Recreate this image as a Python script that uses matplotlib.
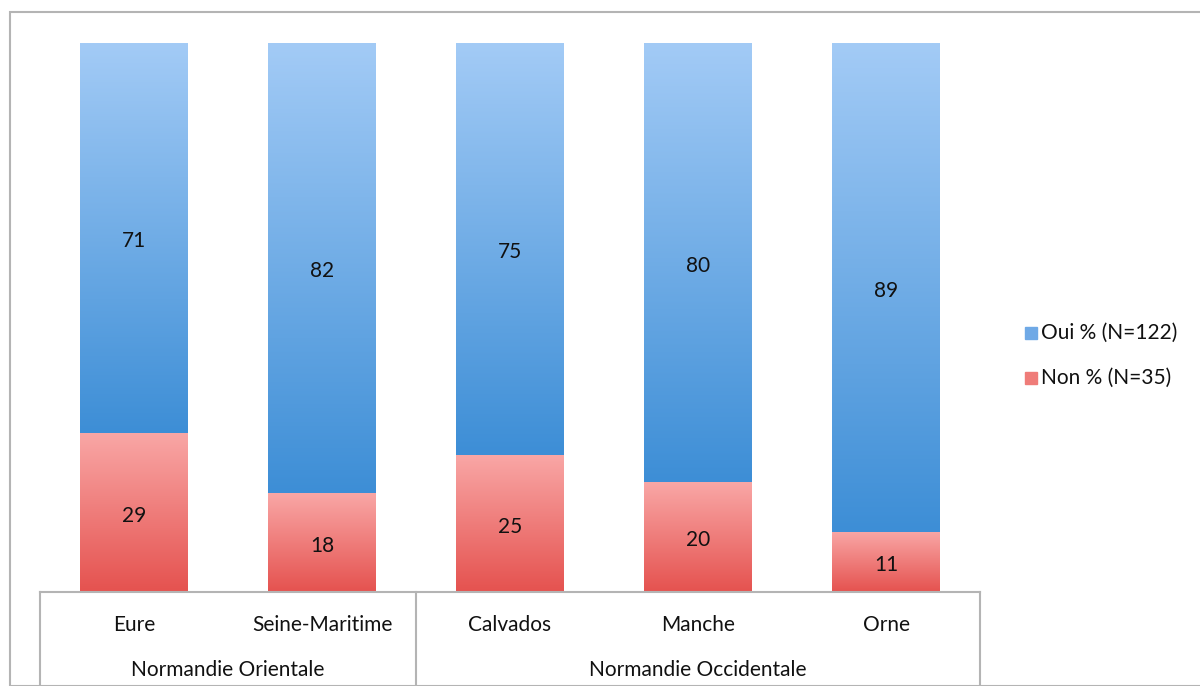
import numpy as np
import matplotlib.pyplot as plt
from matplotlib.colors import LinearSegmentedColormap
from matplotlib.patches import Rectangle

plt.rcParams['font.family'] = ['Lato', 'DejaVu Sans']

departements = ["Eure", "Seine-Maritime", "Calvados", "Manche", "Orne"]
regions = ["Normandie Orientale", "Normandie Occidentale"]
region_sizes = [2, 3]
oui = [71, 82, 75, 80, 89]
non = [29, 18, 25, 20, 11]
labels = ["Oui % (N=122)", "Non % (N=35)"]

W, H = 1200, 686
fs = 15
fig = plt.figure(figsize=(W / 100, H / 100), dpi=100)

# cadre exterieur
fig.patches.append(Rectangle((10 / W, 0), 1.2, 1 - 12 / H, transform=fig.transFigure,
                             fill=False, edgecolor="#b4b4b4", linewidth=1.5, zorder=0))

ax = fig.add_axes([40 / W, 1 - 592 / H, 940 / W, 549 / H])
ax.axis("off")

blue_cm = LinearSegmentedColormap.from_list("b", ["#3d8ed6", "#a3cbf6"])
red_cm = LinearSegmentedColormap.from_list("r", ["#e5524f", "#f9a7a6"])
grad = np.linspace(0, 1, 256).reshape(-1, 1)

x = np.arange(len(departements))
w = 108 / 188
bars_non = ax.bar(x, non, width=w, color="none", edgecolor="none")
bars_oui = ax.bar(x, oui, width=w, bottom=non, color="none", edgecolor="none")

for bars, cm in [(bars_non, red_cm), (bars_oui, blue_cm)]:
    for b in bars:
        x0, y0 = b.get_x(), b.get_y()
        im = ax.imshow(grad, cmap=cm, origin="lower", aspect="auto",
                       extent=[x0, x0 + b.get_width(), y0, y0 + b.get_height()], zorder=1)
        im.set_clip_path(b)

ax.set_xlim(-0.5, len(departements) - 0.5)
ax.set_ylim(0, 100)

for i in range(len(departements)):
    ax.text(x[i], non[i] / 2 - 0.6, str(non[i]), ha="center", va="center", fontsize=fs, color="#111")
    ax.text(x[i], non[i] + oui[i] / 2 - 0.6, str(oui[i]), ha="center", va="center", fontsize=fs, color="#111")

# tableau des categories sous l'axe
line_kw = dict(color="#b4b4b4", linewidth=1.5, clip_on=False)
ax.plot([-0.5, len(departements) - 0.5], [0, 0], **line_kw)
bounds = np.concatenate([[0], np.cumsum(region_sizes)]) - 0.5
for bx in bounds:
    ax.plot([bx, bx], [0, -20], **line_kw)
for i, d in enumerate(departements):
    ax.text(x[i], -6.0, d, ha="center", va="center", fontsize=fs, color="#111")
for j, r in enumerate(regions):
    ax.text((bounds[j] + bounds[j + 1]) / 2, -14.2, r, ha="center", va="center",
            fontsize=fs, color="#111")

# legende
for k, (lab, c) in enumerate(zip(labels, ["#6fa9e6", "#ef7c79"])):
    yy = 1 - (333 + 45 * k) / H
    fig.patches.append(Rectangle((1025 / W, yy - 6 / H), 12 / W, 12 / H,
                                 transform=fig.transFigure, color=c))
    fig.text(1041 / W, yy, lab, ha="left", va="center", fontsize=fs, color="#111")

fig.savefig("out.png", dpi=100)
